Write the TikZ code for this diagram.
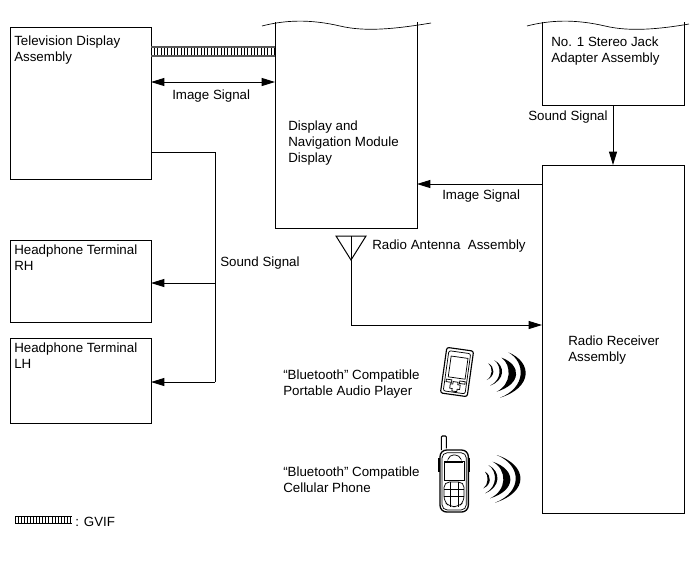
\documentclass[tikz,border=0pt]{standalone}
\usepackage{fontspec}
\setmainfont{Liberation Sans}
\usetikzlibrary{arrows.meta,decorations.pathreplacing,calc}
\tikzset{
  line/.style={line width=.75pt,black},
  box/.style={draw,line width=.75pt,anchor=north west,inner sep=0pt,outer sep=0pt},
  open/.style={anchor=north west,inner sep=0pt,outer sep=0pt},
  txt/.style={anchor=west,align=left,inner sep=0pt,font=\fontsize{10pt}{12pt}\selectfont},
  sig/.style={line,-{Triangle[length=10pt,width=6pt]}},
  dsig/.style={line,{Triangle[length=10pt,width=6pt]}-{Triangle[length=10pt,width=6pt]}},
  hatch/.style={line width=.4pt,decorate,decoration={ticks,segment length=2.5pt,amplitude=3.2pt}},
  dev/.style={line width=.55pt,black},
}
% crescent: top point, bottom point, outer x, inner x
\newcommand{\wavefill}[6]{\fill (#1,#2) .. controls (#5,{#2+.22*(#4-#2)}) and (#5,{#4-.22*(#4-#2)}) .. (#3,#4) .. controls (#6,{#4-.22*(#4-#2)}) and (#6,{#2+.22*(#4-#2)}) .. cycle;}
\begin{document}
\begin{tikzpicture}[x=.75pt,y=-.75pt]
\useasboundingbox (0,0) rectangle (691,562);
% boxes
\node[box,minimum width=105.75pt,minimum height=114pt] (tv) at (10,27) {};
\node[box,minimum width=105.75pt,minimum height=61.5pt] (rh) at (10,240) {};
\node[box,minimum width=105.75pt,minimum height=63.75pt] (lh) at (10,338) {};
\node[box,minimum width=106.5pt,minimum height=261pt] (radio) at (542,165) {};
\node[open,minimum width=106.5pt,minimum height=154.5pt] (disp) at (275,22) {};
\node[open,minimum width=106.5pt,minimum height=62.25pt] (jack) at (542,22) {};
\draw[line] (disp.north west) -- (disp.south west) -- (disp.south east) -- (disp.north east);
\draw[line] (jack.north west) -- (jack.south west) -- (jack.south east) -- (jack.north east);
% torn edges
\draw[line width=.5pt] (262,26) .. controls (285,20) and (310,19) .. (340,26) .. controls (365,32) and (395,29) .. (431,23);
\draw[line width=.5pt] (527,26) .. controls (550,20) and (575,19) .. (605,26) .. controls (630,32) and (660,29) .. (689,24);
% labels
\node[txt] (ltv) at (14,50) {Television Display\\Assembly};
\node[txt] (lrh) at (14,258) {Headphone Terminal\\RH};
\node[txt] (llh) at (14,356) {Headphone Terminal\\LH};
\node[txt] (ldisp) at (288,143) {Display and\\Navigation Module\\Display};
\node[txt] (ljack) at (551,51) {No. 1 Stereo Jack\\Adapter Assembly};
\node[txt] (lradio) at (568,350) {Radio Receiver\\Assembly};
\node[txt] (s1) at (528,117) {Sound Signal};
\node[txt] (i1) at (442,196) {Image Signal};
\node[txt] (i2) at (172,96) {Image Signal};
\node[txt] (ant) at (372,246) {Radio Antenna\ \ Assembly};
\node[txt] (s2) at (220,263) {Sound Signal};
\node[txt] (bt1) at (283,384) {“Bluetooth” Compatible\\Portable Audio Player};
\node[txt] (bt2) at (283,480) {“Bluetooth” Compatible\\Cellular Phone};
\node[txt] (gv) at (75,522) {: GVIF};
% helper coordinates
\coordinate (yGvif) at (0,51.5);
\coordinate (yImg) at (0,82);
\coordinate (ySnd) at (0,152);
\coordinate (yImgR) at (0,184);
\coordinate (yRh) at (0,283);
\coordinate (yAnt) at (0,325);
\coordinate (yLh) at (0,382);
\coordinate (xJack) at (613,0);
\coordinate (xBus) at (215,0);
\coordinate (antL) at (336,236);
\coordinate (antR) at (366,236);
\coordinate (antA) at (351,260);
% GVIF harness
\draw[hatch] (tv.east |- yGvif) -- (disp.west |- yGvif);
\draw[line width=.8pt,black!65] ($(tv.east |- yGvif)+(0,-4.5)$) -- ($(disp.west |- yGvif)+(0,-4.5)$);
\draw[line width=.8pt,black!65] ($(tv.east |- yGvif)+(0,4.5)$) -- ($(disp.west |- yGvif)+(0,4.5)$);
% legend
\coordinate (legA) at (15,520);
\coordinate (legB) at (72,520);
\draw[hatch,decoration={ticks,segment length=2.3pt,amplitude=2.6pt}] (legA) -- (legB);
\draw[line width=.35pt] ($(legA)+(0,-3.5)$) -- ($(legB)+(0,-3.5)$);
\draw[line width=.6pt] ($(legA)+(0,3.5)$) -- ($(legB)+(0,3.5)$);
% connectors
\draw[dsig] (tv.east |- yImg) -- (disp.west |- yImg);
\draw[sig] (xJack |- jack.south) -- (xJack |- radio.north);
\draw[sig] (radio.west |- yImgR) -- (disp.east |- yImgR);
\draw[line] (tv.east |- ySnd) -- (xBus |- ySnd) -- (xBus |- yLh);
\draw[sig] (xBus |- yLh) -- (lh.east |- yLh);
\draw[sig] (xBus |- yRh) -- (rh.east |- yRh);
\draw[line] (antL) -- (antR) -- (antA) -- cycle;
\draw[line] (antL -| antA) -- (antA);
\draw[sig] (antA) -- (antA |- yAnt) -- (radio.west |- yAnt);
% portable player
\begin{scope}[shift={(457,372)},rotate=-8]
  \draw[line width=.85pt,rounded corners=1.7pt] (-13.5,-23) rectangle (13.5,23);
  \draw[dev,rounded corners=1.5pt] (-11,-20) rectangle (11,20.5);
  \draw[dev] (-8,-15) rectangle (9,6);
  \draw[dev] (-9.5,8.5) -- (-4,8.5) -- (-4,11) -- (-9.5,11) -- cycle;
  \draw[dev] (9.5,8.5) -- (4,8.5) -- (4,11) -- (9.5,11) -- cycle;
  \draw[dev] (-2.5,10) -- (2.5,10) -- (2.5,12.5) -- (5,12.5) -- (5,17) -- (2.5,17) -- (2.5,19.5) -- (-2.5,19.5) -- (-2.5,17) -- (-5,17) -- (-5,12.5) -- (-2.5,12.5) -- cycle;
\end{scope}
% player waves
\begin{scope}[shift={(430,335)},scale=1/3]
  \wavefill{175}{85}{170}{135}{196}{189}
  \wavefill{192}{75}{180}{152}{226}{216}
  \wavefill{215}{68}{200}{170}{275}{245}
  \wavefill{235}{52}{210}{188}{308}{288}
\end{scope}
% phone
\begin{scope}[shift={(430,430)},scale=1/3]
  \draw[line width=.8pt,rounded corners=.8pt] (34,60) -- (34,18) -- (49,18) -- (49,55);
  \draw[line width=1pt,rounded corners=5pt] (30,60) rectangle (115,246);
  \draw[dev,rounded corners=4pt] (36,68) rectangle (109,240);
  \fill (24,85) rectangle (30,125);
  \fill (115,85) rectangle (121,125);
  \draw[dev,rounded corners=3pt] (55,86) -- (58,75) -- (88,75) -- (92,86);
  \draw[dev] (42,95) rectangle (102,150);
  \draw[dev] (44,97) -- (100,97);
  \draw[dev,rounded corners=4pt] (42,156) -- (102,156) -- (102,215) -- (85,230) -- (60,230) -- (42,215) -- cycle;
  \draw[dev] (60,156) -- (60,230);
  \draw[dev] (85,156) -- (85,230);
  \draw[dev] (42,178) -- (102,178);
  \draw[dev] (42,198) -- (102,198);
\end{scope}
% phone waves
\begin{scope}[shift={(430,430)},scale=1/3]
  \wavefill{165}{125}{160}{175}{185}{176}
  \wavefill{175}{105}{165}{190}{213}{203}
  \wavefill{188}{95}{180}{205}{260}{232}
  \wavefill{200}{75}{195}{218}{296}{277}
\end{scope}
\end{tikzpicture}
\end{document}
